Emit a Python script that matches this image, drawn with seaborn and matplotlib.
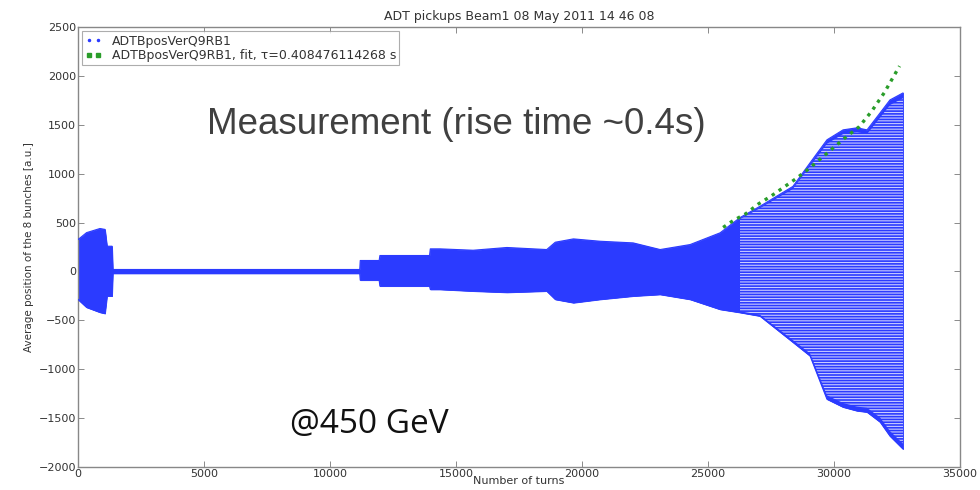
import numpy as np
import pandas as pd
import matplotlib
matplotlib.use("Agg")
import matplotlib.pyplot as plt
from matplotlib.lines import Line2D
import seaborn as sns

# ---- data (envelope of the dense oscillation) ----
env_turns = [0, 340, 870, 1070, 1150, 1350, 1380, 11180, 11200, 11950, 11980,
             13950, 13980, 14370, 15680, 17020, 18600, 18940, 19660, 20710,
             22030, 23100, 24290, 25480, 26270, 27060, 28370, 29050, 29720,
             30360, 30910, 31310, 31830, 32220, 32740]
env_upper = [326, 397, 439, 430, 258, 258, 20, 20, 112, 112, 163,
             163, 231, 231, 217, 245, 224, 299, 333, 309,
             292, 224, 275, 395, 551, 666, 870, 1111, 1346,
             1448, 1469, 1448, 1622, 1754, 1826]
env_lower = [-286, -367, -418, -430, -252, -252, -20, -20, -89, -89, -150,
             -150, -184, -184, -201, -214, -201, -286, -320, -286,
             -252, -235, -286, -388, -420, -456, -724, -864, -1306,
             -1387, -1425, -1438, -1540, -1683, -1816]

fit_turns = [25600, 26000, 26500, 27000, 27500, 28000, 28500, 29000, 29500,
             30000, 30500, 31000, 31500, 32000, 32600]
fit_values = [450, 520, 590, 690, 770, 860, 950, 1050, 1160,
              1270, 1380, 1480, 1640, 1830, 2100]

x_ticks = [0, 5000, 10000, 15000, 20000, 25000, 30000, 35000]
y_ticks = [-2000, -1500, -1000, -500, 0, 500, 1000, 1500, 2000, 2500]

title = "ADT pickups Beam1 08 May 2011 14 46 08"
label_meas = "ADTBposVerQ9RB1"
label_fit = "ADTBposVerQ9RB1, fit, \u03c4=0.408476114268 s"

env = pd.DataFrame({"turns": env_turns, "upper": env_upper, "lower": env_lower})
fit = pd.DataFrame({"turns": fit_turns, "value": fit_values})

sns.set_theme(style="ticks")
plt.rcParams["font.family"] = ["DejaVu Sans"]
plt.rcParams["hatch.linewidth"] = 0.8

fig = plt.figure(figsize=(9.8, 4.9), dpi=100)
ax = fig.add_axes([78 / 980, 1 - 467 / 490, 882 / 980, 440 / 490])

blue = "#2b3bff"
ax.fill_between(env["turns"], env["lower"], env["upper"], color=blue, lw=0.6,
                edgecolor=blue, zorder=2)
grow = env[env["turns"] >= 26270]
ax.fill_between(grow["turns"], grow["lower"] * 0.97, grow["upper"] * 0.97,
                facecolor="none", hatch="------", edgecolor="#c9ccff", lw=0,
                zorder=3)
sns.lineplot(data=env, x="turns", y="upper", ax=ax, color=blue, lw=0.8, zorder=4)
sns.lineplot(data=env, x="turns", y="lower", ax=ax, color=blue, lw=0.8, zorder=4)

sns.lineplot(data=fit, x="turns", y="value", ax=ax, color="#2a9d2a",
             lw=2.4, dashes=False, zorder=5)
ax.lines[-1].set_linestyle((0, (1, 1.5)))

ax.set_xlim(0, 35000)
ax.set_ylim(-2000, 2500)
ax.set_xticks(x_ticks)
ax.set_yticks(y_ticks)
ax.tick_params(direction="in", top=True, right=True, length=4, width=0.6,
               color="#777777", labelsize=8, labelcolor="#333333", pad=1.5)
for s in ax.spines.values():
    s.set_color("#888888")
    s.set_linewidth(1.0)
ax.set_xlabel("Number of turns", fontsize=8, color="#333333", labelpad=-2)
ax.set_ylabel("Average position of the 8 bunches [a.u.]", fontsize=7.5,
              color="#333333", labelpad=3)
ax.set_title(title, fontsize=9, color="#333333", pad=5)

handles = [
    Line2D([], [], marker=".", ls="none", color=blue, markersize=3),
    Line2D([], [], marker="s", ls="none", color="#2a9d2a", markersize=2.4),
]
leg = ax.legend(handles, [label_meas, label_fit], loc="upper left", numpoints=2,
                fontsize=9, frameon=True, fancybox=False, borderaxespad=0.35,
                handlelength=1.3, handletextpad=0.8, borderpad=0.25,
                labelspacing=0.15, edgecolor="#999999")
leg.get_frame().set_linewidth(0.8)
for t in leg.get_texts():
    t.set_color("#333333")

fig.text(207 / 980, 1 - 125 / 490, "Measurement (rise time ~0.4s)",
         fontsize=26.5, color="#404040", va="center", ha="left",
         family=["Liberation Sans", "DejaVu Sans"])
fig.text(290 / 980, 1 - 425 / 490, "@450 GeV", fontsize=24, color="#111111",
         va="center", ha="left", family=["Open Sans", "DejaVu Sans"])

fig.savefig("out.png", dpi=100)
